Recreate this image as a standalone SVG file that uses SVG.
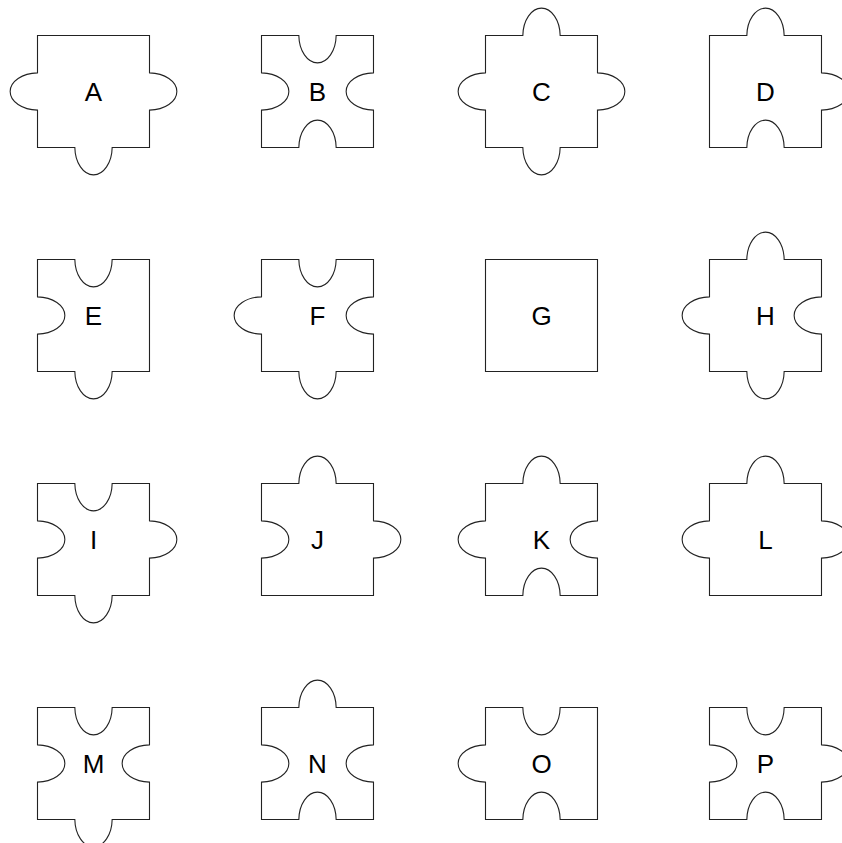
<svg xmlns="http://www.w3.org/2000/svg" width="842" height="843" viewBox="0 0 842 843">
<style>
.p{fill:#fff;stroke:#222;stroke-width:1.1}
.t{font-family:"Liberation Sans",Arial,sans-serif;font-size:26px;fill:#000;text-anchor:middle}
</style>
<rect width="842" height="843" fill="#fff"/>
<g id="A"><path class="p" d="M37.5 35.5h112v37.33a28 18.67 0 0 1 0 37.33v37.33h-37.33a18.67 28 0 0 1 -37.33 0h-37.33v-37.33a28 18.67 0 0 1 0 -37.33z"/><text class="t" x="93.5" y="101">A</text></g>
<g id="B"><path class="p" d="M261.5 35.5h37.33a18.67 28 0 0 0 37.33 0h37.33v37.33a28 18.67 0 0 0 0 37.33v37.33h-37.33a18.67 28 0 0 0 -37.33 0h-37.33v-37.33a28 18.67 0 0 0 0 -37.33z"/><text class="t" x="317.5" y="101">B</text></g>
<g id="C"><path class="p" d="M485.5 35.5h37.33a18.67 28 0 0 1 37.33 0h37.33v37.33a28 18.67 0 0 1 0 37.33v37.33h-37.33a18.67 28 0 0 1 -37.33 0h-37.33v-37.33a28 18.67 0 0 1 0 -37.33z"/><text class="t" x="541.5" y="101">C</text></g>
<g id="D"><path class="p" d="M709.5 35.5h37.33a18.67 28 0 0 1 37.33 0h37.33v37.33a28 18.67 0 0 1 0 37.33v37.33h-37.33a18.67 28 0 0 0 -37.33 0h-37.33z"/><text class="t" x="765.5" y="101">D</text></g>
<g id="E"><path class="p" d="M37.5 259.5h37.33a18.67 28 0 0 0 37.33 0h37.33v112h-37.33a18.67 28 0 0 1 -37.33 0h-37.33v-37.33a28 18.67 0 0 0 0 -37.33z"/><text class="t" x="93.5" y="325">E</text></g>
<g id="F"><path class="p" d="M261.5 259.5h37.33a18.67 28 0 0 0 37.33 0h37.33v37.33a28 18.67 0 0 0 0 37.33v37.33h-37.33a18.67 28 0 0 1 -37.33 0h-37.33v-37.33a28 18.67 0 0 1 0 -37.33z"/><text class="t" x="317.5" y="325">F</text></g>
<g id="G"><path class="p" d="M485.5 259.5h112v112h-112z"/><text class="t" x="541.5" y="325">G</text></g>
<g id="H"><path class="p" d="M709.5 259.5h37.33a18.67 28 0 0 1 37.33 0h37.33v37.33a28 18.67 0 0 0 0 37.33v37.33h-37.33a18.67 28 0 0 1 -37.33 0h-37.33v-37.33a28 18.67 0 0 1 0 -37.33z"/><text class="t" x="765.5" y="325">H</text></g>
<g id="I"><path class="p" d="M37.5 483.5h37.33a18.67 28 0 0 0 37.33 0h37.33v37.33a28 18.67 0 0 1 0 37.33v37.33h-37.33a18.67 28 0 0 1 -37.33 0h-37.33v-37.33a28 18.67 0 0 0 0 -37.33z"/><text class="t" x="93.5" y="549">I</text></g>
<g id="J"><path class="p" d="M261.5 483.5h37.33a18.67 28 0 0 1 37.33 0h37.33v37.33a28 18.67 0 0 1 0 37.33v37.33h-112v-37.33a28 18.67 0 0 0 0 -37.33z"/><text class="t" x="317.5" y="549">J</text></g>
<g id="K"><path class="p" d="M485.5 483.5h37.33a18.67 28 0 0 1 37.33 0h37.33v37.33a28 18.67 0 0 0 0 37.33v37.33h-37.33a18.67 28 0 0 0 -37.33 0h-37.33v-37.33a28 18.67 0 0 1 0 -37.33z"/><text class="t" x="541.5" y="549">K</text></g>
<g id="L"><path class="p" d="M709.5 483.5h37.33a18.67 28 0 0 1 37.33 0h37.33v37.33a28 18.67 0 0 1 0 37.33v37.33h-112v-37.33a28 18.67 0 0 1 0 -37.33z"/><text class="t" x="765.5" y="549">L</text></g>
<g id="M"><path class="p" d="M37.5 707.5h37.33a18.67 28 0 0 0 37.33 0h37.33v37.33a28 18.67 0 0 0 0 37.33v37.33h-37.33a18.67 28 0 0 1 -37.33 0h-37.33v-37.33a28 18.67 0 0 0 0 -37.33z"/><text class="t" x="93.5" y="773">M</text></g>
<g id="N"><path class="p" d="M261.5 707.5h37.33a18.67 28 0 0 1 37.33 0h37.33v37.33a28 18.67 0 0 0 0 37.33v37.33h-37.33a18.67 28 0 0 0 -37.33 0h-37.33v-37.33a28 18.67 0 0 0 0 -37.33z"/><text class="t" x="317.5" y="773">N</text></g>
<g id="O"><path class="p" d="M485.5 707.5h37.33a18.67 28 0 0 0 37.33 0h37.33v112h-37.33a18.67 28 0 0 0 -37.33 0h-37.33v-37.33a28 18.67 0 0 1 0 -37.33z"/><text class="t" x="541.5" y="773">O</text></g>
<g id="P"><path class="p" d="M709.5 707.5h37.33a18.67 28 0 0 0 37.33 0h37.33v37.33a28 18.67 0 0 1 0 37.33v37.33h-37.33a18.67 28 0 0 0 -37.33 0h-37.33v-37.33a28 18.67 0 0 0 0 -37.33z"/><text class="t" x="765.5" y="773">P</text></g>
<g id="connectors"/>
</svg>
